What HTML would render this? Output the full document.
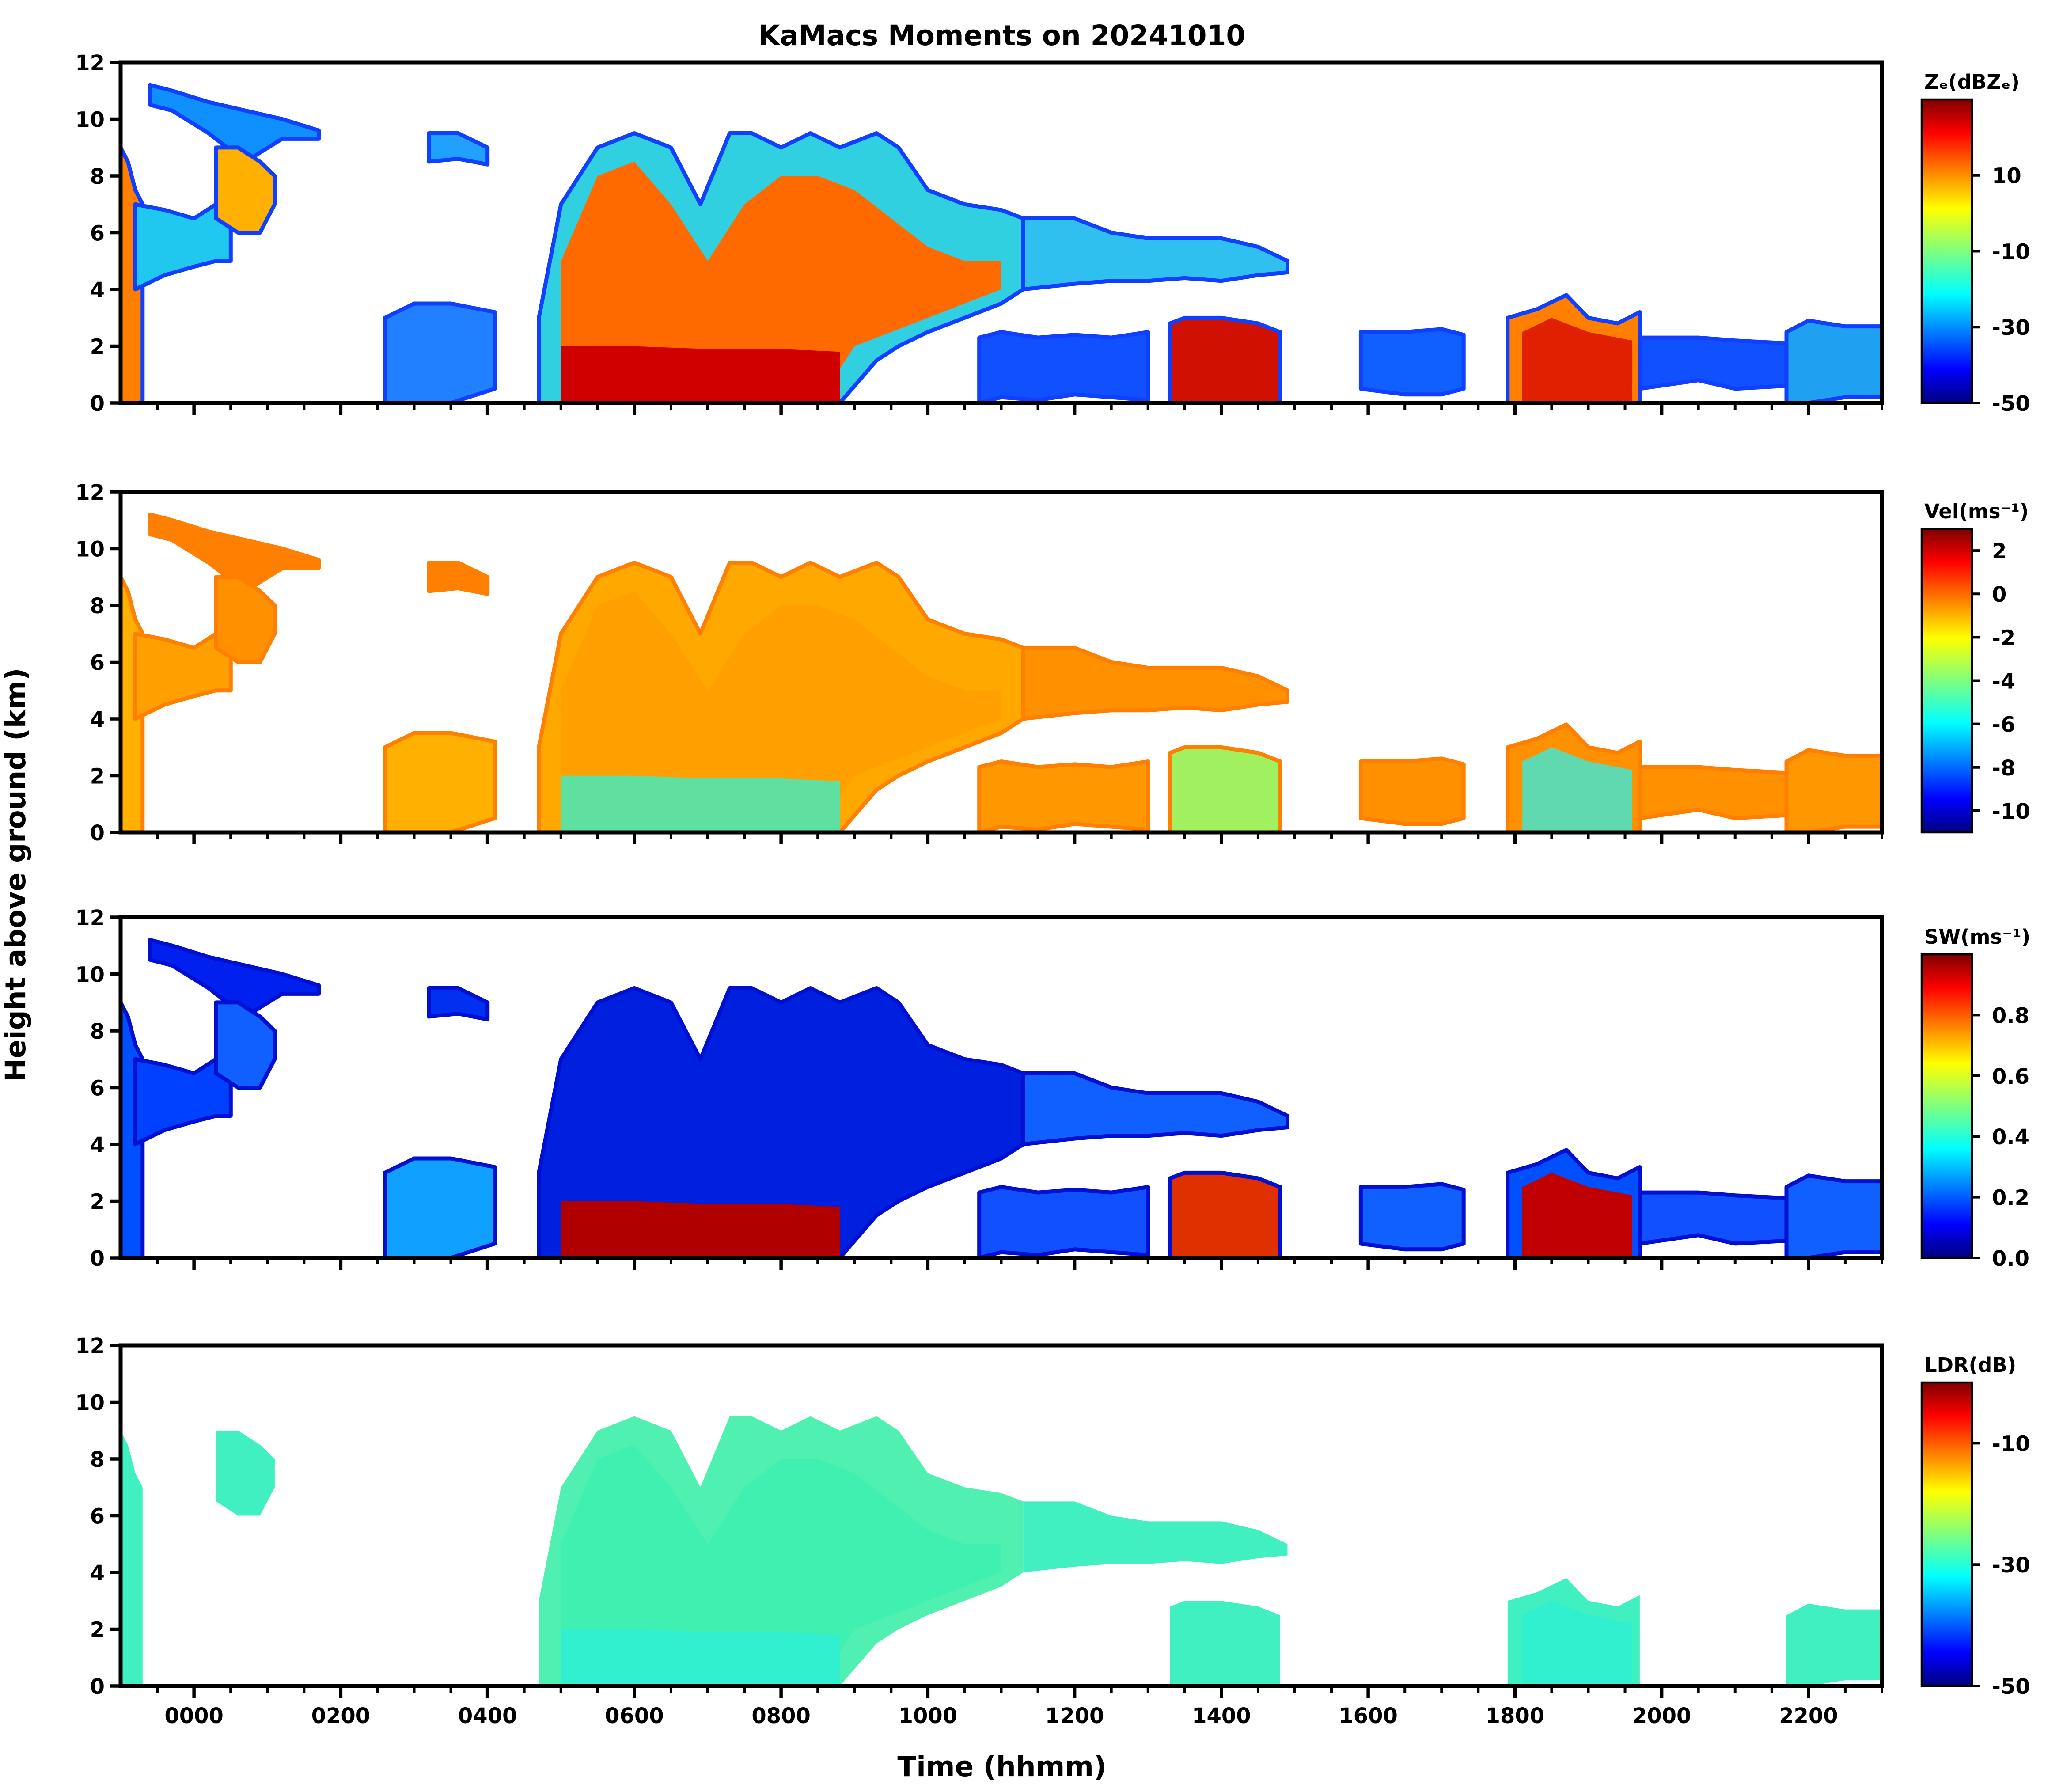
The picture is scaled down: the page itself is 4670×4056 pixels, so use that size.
<!DOCTYPE html>
<html><head><meta charset="utf-8">
<style>
html,body{margin:0;padding:0;background:#fff;}
svg{display:block;}
text{font-family:"DejaVu Sans","Liberation Sans",sans-serif;font-weight:bold;fill:#000;}
</style></head>
<body>
<svg id="chart" width="4670" height="4056" viewBox="0 0 1556.67 1352" xmlns="http://www.w3.org/2000/svg">
<defs>
<linearGradient id="jet" x1="0" y1="1" x2="0" y2="0">
<stop offset="0" stop-color="#00007f"/><stop offset="0.11" stop-color="#0000ff"/>
<stop offset="0.36" stop-color="#00ffff"/><stop offset="0.5" stop-color="#7fff7f"/>
<stop offset="0.64" stop-color="#ffff00"/><stop offset="0.89" stop-color="#ff0000"/>
<stop offset="1" stop-color="#7f0000"/>
</linearGradient>
</defs>
<text x="756" y="34" font-size="21" text-anchor="middle">KaMacs Moments on 20241010</text>
<text transform="translate(19,660) rotate(-90)" font-size="21" text-anchor="middle">Height above ground (km)</text>
<text x="756" y="1340" font-size="21" text-anchor="middle">Time (hhmm)</text>
<g id="panels"></g>
</svg>
<script>
// ---- data ----
const panelNames = ['reflectivity','velocity','spectrum-width','ldr'];
const panelTops = [47, 371, 692, 1015];
const heightTicks = [0,2,4,6,8,10,12];
const timeTicksMajor = [0,2,4,6,8,10,12,14,16,18,20,22];
const timeTickLabels = ['0000','0200','0400','0600','0800','1000','1200','1400','1600','1800','2000','2200'];
const cbTitles = ['Z\u2091(dBZ\u2091)','Vel(ms\u207B\u00B9)','SW(ms\u207B\u00B9)','LDR(dB)'];
const cbRanges = [[-50,30],[-11,3],[0,1],[-50,0]];
const cbTicks = [[10,-10,-30,-50],[2,0,-2,-4,-6,-8,-10],[0.8,0.6,0.4,0.2,0.0],[-10,-30,-50]];
const cbTickLabels = [['10','-10','-30','-50'],['2','0','-2','-4','-6','-8','-10'],['0.8','0.6','0.4','0.2','0.0'],['-10','-30','-50']];

const shapeNames = ['left-column','left-layer','upper-layer','upper-blob','low-left','cirrus','big-system','big-core','big-red-base','mid-layer','low-mid','red-low','low-16','sys-18','sys-18-core','low-20','low-22'];
const shapeTimes = [
 [-1,-0.9,-0.8,-0.7],
 [-0.8,-0.4,0,0.3,0.5],
 [-0.6,-0.3,0.2,0.7,1.2,1.7],
 [0.3,0.6,0.9,1.1],
 [2.6,3,3.5,4.1],
 [3.2,3.6,4.0],
 [4.7,5.0,5.5,6.0,6.5,6.9,7.3,7.6,8.0,8.4,8.8,9.3,9.6,10.0,10.5,11.0,11.3],
 [5,5.5,6,6.5,7,7.5,8,8.5,9,9.5,10,10.5,11],
 [5,6,7,8,8.8],
 [11.3,12,12.5,13,13.5,14,14.5,14.9],
 [10.7,11,11.5,12,12.5,13],
 [13.3,13.5,14,14.5,14.8],
 [15.9,16.5,17,17.3],
 [17.9,18.3,18.7,19.0,19.4,19.7],
 [18.1,18.5,19,19.6],
 [19.7,20.5,21,21.7],
 [21.7,22,22.5,23]
];
const shapeTops = [
 [9,8.5,7.5,7],
 [7,6.8,6.5,7,7],
 [11.2,11,10.6,10.3,10,9.6],
 [9,9,8.5,8],
 [3,3.5,3.5,3.2],
 [9.5,9.5,9],
 [3,7,9,9.5,9,7,9.5,9.5,9,9.5,9,9.5,9,7.5,7,6.8,6.5],
 [5,8,8.5,7,5,7,8,8,7.5,6.5,5.5,5,5],
 [2,2,1.9,1.9,1.8],
 [6.5,6.5,6,5.8,5.8,5.8,5.5,5],
 [2.3,2.5,2.3,2.4,2.3,2.5],
 [2.8,3,3,2.8,2.5],
 [2.5,2.5,2.6,2.4],
 [3,3.3,3.8,3,2.8,3.2],
 [2.5,3,2.5,2.2],
 [2.3,2.3,2.2,2.1],
 [2.5,2.9,2.7,2.7]
];
const shapeBases = [
 [0,0,0,0],
 [4,4.5,4.8,5,5],
 [10.5,10.3,9.5,8.5,9.3,9.3],
 [6.5,6,6,7],
 [0,0,0,0.5],
 [8.5,8.6,8.4],
 [0,0,0,0,0,0,0,0,0,0,0,1.5,2,2.5,3,3.5,4],
 [0,0,0,0,0,0,0,0,2,2.5,3,3.5,4],
 [0,0,0,0,0],
 [4,4.2,4.3,4.3,4.4,4.3,4.5,4.6],
 [0,0.2,0.1,0.3,0.2,0.1],
 [0,0,0,0,0],
 [0.5,0.3,0.3,0.5],
 [0,0,0,0,0,0],
 [0,0,0,0],
 [0.5,0.8,0.5,0.6],
 [0,0,0.2,0.2]
];
const shapeFills = [
 ['#ff8000','#ffb000','#0050ff','#40f0c0'],
 ['#20c8f0','#ffa000','#0040ff','#ffffff'],
 ['#1090ff','#ff8000','#0020f0','#ffffff'],
 ['#ffb000','#ff9000','#1060ff','#40f0c0'],
 ['#2080ff','#ffb000','#10a0ff','#ffffff'],
 ['#20a0ff','#ff8000','#0030f0','#ffffff'],
 ['#30d0e0','#ffa800','#0020e0','#50f0b0'],
 ['#ff6a00','#ffa000','#0020e0','#40f0b0'],
 ['#d00000','#60e0a0','#b00000','#30f0d0'],
 ['#30c0f0','#ff9000','#1060ff','#40f0c0'],
 ['#1050ff','#ff9800','#1050ff','#ffffff'],
 ['#d01000','#a0f060','#e03000','#40f0c0'],
 ['#1060ff','#ff9000','#1060ff','#ffffff'],
 ['#ff8000','#ff9000','#0050ff','#40f0c0'],
 ['#e02000','#60d8b0','#c00000','#30f0d0'],
 ['#1050ff','#ff9000','#1050ff','#ffffff'],
 ['#20a0f0','#ff9800','#1060ff','#40f0c0']
];
// ---- layout ----
const X0 = 91, X1 = 1420, PH = 257;
const tMin = -1, tMax = 23;
function xOf(t){ return X0 + (t - tMin) / (tMax - tMin) * (X1 - X0); }
function yOf(p, h){ return panelTops[p] + PH - h / 12 * PH; }
const NS = 'http://www.w3.org/2000/svg';
const root = document.getElementById('panels');
function mk(tag, attrs, parent){ const e = document.createElementNS(NS, tag); for (const k in attrs) e.setAttribute(k, attrs[k]); (parent||root).appendChild(e); return e; }

for (let p = 0; p < 4; p++) {
  const g = mk('g', {});
  
  
  const edge = ['#1040ff','#ff8000','#0010d0','none'][p];
  for (let s = 0; s < shapeNames.length; s++) {
    const fill = shapeFills[s][p];
    if (fill === '#ffffff') continue;
    const ts = shapeTimes[s], tops = shapeTops[s], bases = shapeBases[s];
    let pts = [];
    for (let i = 0; i < ts.length; i++) pts.push(xOf(ts[i]).toFixed(1) + ',' + yOf(p, tops[i]).toFixed(1));
    for (let i = ts.length - 1; i >= 0; i--) pts.push(xOf(ts[i]).toFixed(1) + ',' + yOf(p, bases[i]).toFixed(1));
    const poly = mk('polygon', {points: pts.join(' '), fill: fill, stroke: (s===7||s===8||s===14)?'none':edge, 'stroke-width': 3, 'stroke-linejoin':'round'}, g);
    
    
  }
  const top = panelTops[p];
  const frame = mk('rect', {x: X0, y: top, width: X1 - X0, height: PH, fill: 'none', stroke: '#000', 'stroke-width': 3}, g);
  
  
  for (const h of heightTicks) {
    const y = yOf(p, h);
    mk('line', {x1: X0 - 8, x2: X0, y1: y, y2: y, stroke: '#000', 'stroke-width': 2.5}, g);
    const tl = mk('text', {x: X0 - 12, y: y + 6, 'font-size': 16, 'text-anchor': 'end'}, g);
    tl.textContent = String(h);
    
    
  }
  for (let t = -0.5; t <= 23; t += 0.5) {
    const major = timeTicksMajor.indexOf(t) >= 0;
    mk('line', {x1: xOf(t), x2: xOf(t), y1: top + PH, y2: top + PH + (major ? 9 : 5), stroke: '#000', 'stroke-width': major ? 2.5 : 2}, g);
  }
  if (p === 3) {
    timeTicksMajor.forEach((t, i) => {
      const xl = mk('text', {x: xOf(t), y: top + PH + 28, 'font-size': 16, 'text-anchor': 'middle'}, g);
      xl.textContent = timeTickLabels[i];
      
      
    });
  }
  const cbTop = top + 28, cbH = PH - 28, cbX = 1450, cbW = 38;
  const cb = mk('rect', {x: cbX, y: cbTop, width: cbW, height: cbH, fill: 'url(#jet)', stroke: '#000', 'stroke-width': 1.5}, g);
  
  
  const ct = mk('text', {x: cbX + 2, y: top + 20, 'font-size': 15}, g);
  ct.textContent = cbTitles[p];
  
  
  const [lo, hi] = cbRanges[p];
  cbTicks[p].forEach((v, i) => {
    const y = cbTop + cbH - (v - lo) / (hi - lo) * cbH;
    mk('line', {x1: cbX + cbW, x2: cbX + cbW + 6, y1: y, y2: y, stroke: '#000', 'stroke-width': 2}, g);
    const l = mk('text', {x: cbX + cbW + 15, y: y + 6, 'font-size': 16}, g);
    l.textContent = cbTickLabels[p][i];
    
    
  });
}
</script>
</body></html>
